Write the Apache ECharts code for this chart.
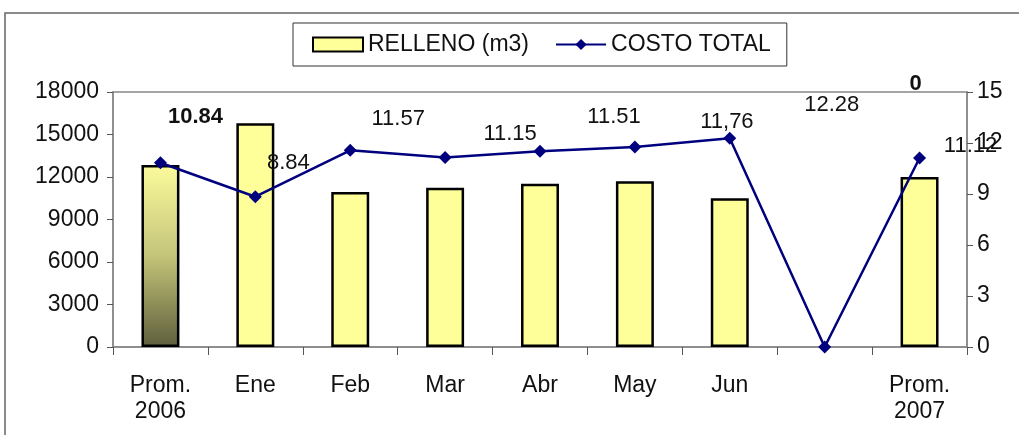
<!DOCTYPE html>
<html lang="es">
<head>
<meta charset="UTF-8">
<title>Relleno y costo total</title>
<style>
    html, body { margin: 0; padding: 0; background: #fff; }
    #main { width: 1019px; height: 435px; }
</style>
</head>
<body>
<div id="main"></div>
<script src="https://cdn.jsdelivr.net/npm/echarts@6/dist/echarts.min.js"></script>
<script>
    // categorias del eje x (la septima va vacia)
    var categories = ['Prom.\n2006', 'Ene', 'Feb', 'Mar', 'Abr', 'May', 'Jun', '', 'Prom.\n2007'];
    // RELLENO (m3)
    var relleno = [12850, 15800, 10950, 11250, 11530, 11700, 10500, null, 12000];
    // COSTO TOTAL
    var costo = [10.84, 8.84, 11.57, 11.15, 11.51, 11.76, 12.28, 0, 11.12];
    // textos de etiqueta tal como salen en el grafico
    var costoLabels = ['10.84', '8.84', '11.57', '11.15', '11.51', '11,76', '12.28', '0', '11.12'];
    var leftTicks = { min: 0, max: 18000, interval: 3000 };
    var rightTicks = { min: 0, max: 15, interval: 3 };

    // desplazamiento de cada etiqueta respecto al punto (estaban movidas a mano)
    var labelOffsets = [[35, -46], [33, -34], [48, -31], [65, -24], [74, -34], [92, -25], [102, -33], [91, -263], [51, -12]];
    var boldLabels = [true, false, false, false, false, false, false, true, false];

    var font = 'Liberation Sans, Arial, sans-serif';
    var myChart = echarts.init(document.getElementById('main'));

    var barData = relleno.map(function(v, i) {
        if (i === 0) {
            return {
                value: v,
                itemStyle: {
                    color: new echarts.graphic.LinearGradient(0, 0, 0, 1, [
                        { offset: 0, color: '#fbfb9c' },
                        { offset: 0.5, color: '#c4c47a' },
                        { offset: 1, color: '#5e5e3c' }
                    ])
                }
            };
        }
        return v;
    });

    var lineData = costo.map(function(v, i) {
        return {
            value: v,
            label: {
                show: true,
                position: 'inside',
                offset: labelOffsets[i],
                formatter: costoLabels[i],
                fontWeight: boldLabels[i] ? 'bold' : 'normal'
            }
        };
    });

    function plain(v) {
        return String(v);
    }

    myChart.setOption({
        animation: false,
        textStyle: { fontFamily: font },
        graphic: [{
            type: 'rect',
            shape: { x: 5, y: 13, width: 1040, height: 440 },
            style: { fill: 'none', stroke: '#666', lineWidth: 1.5 },
            silent: true
        }],
        legend: {
            left: 293,
            top: 23,
            padding: [10, 16, 10, 19],
            itemGap: 26,
            itemWidth: 50,
            itemHeight: 14,
            borderColor: '#333',
            borderWidth: 1,
            textStyle: {
                fontSize: 23,
                color: '#111'
            },
            data: [
                { name: 'RELLENO (m3)', icon: 'rect', itemStyle: { color: '#ffff99', borderColor: '#000', borderWidth: 2 } },
                { name: 'COSTO TOTAL' }
            ]
        },
        grid: {
            left: 113,
            right: 52,
            top: 92,
            bottom: 88,
            show: true,
            borderColor: '#888',
            borderWidth: 1.5
        },
        xAxis: {
            type: 'category',
            data: categories,
            axisLine: { lineStyle: { color: '#888', width: 1.5 } },
            axisTick: { show: true, length: 8, lineStyle: { color: '#555' } },
            axisLabel: {
                color: '#111',
                fontSize: 23,
                lineHeight: 26,
                margin: 26,
                interval: 0
            }
        },
        yAxis: [{
            type: 'value',
            min: leftTicks.min,
            max: leftTicks.max,
            interval: leftTicks.interval,
            splitLine: { show: false },
            axisLine: { show: true, lineStyle: { color: '#888', width: 1.5 } },
            axisTick: { show: true, length: 6, lineStyle: { color: '#555' } },
            axisLabel: { color: '#111', fontSize: 23, margin: 14, formatter: plain }
        }, {
            type: 'value',
            min: rightTicks.min,
            max: rightTicks.max,
            interval: rightTicks.interval,
            splitLine: { show: false },
            axisLine: { show: true, lineStyle: { color: '#888', width: 1.5 } },
            axisTick: { show: true, length: 6, lineStyle: { color: '#555' } },
            axisLabel: { color: '#111', fontSize: 23, margin: 10, formatter: plain }
        }],
        series: [{
            name: 'RELLENO (m3)',
            type: 'bar',
            data: barData,
            barWidth: '40%',
            yAxisIndex: 0,
            itemStyle: { color: '#ffff99', borderColor: '#000', borderWidth: 2.5 }
        }, {
            name: 'COSTO TOTAL',
            type: 'line',
            data: lineData,
            yAxisIndex: 1,
            symbol: 'diamond',
            symbolSize: 13,
            lineStyle: { color: '#00007f', width: 2.5 },
            itemStyle: { color: '#00007f' },
            label: { color: '#111', fontSize: 22 }
        }]
    });
</script>
</body>
</html>
